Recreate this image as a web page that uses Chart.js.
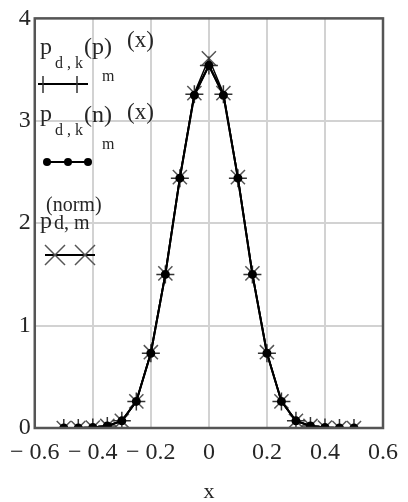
<!DOCTYPE html>
<html>
<head>
<meta charset="utf-8">
<script src="https://cdn.jsdelivr.net/npm/chart.js@4/dist/chart.umd.min.js"></script>
<style>
  html, body { margin: 0; padding: 0; background: #fff; }
  #wrap { width: 408px; height: 502px; position: relative; }
</style>
</head>
<body>
<div id="wrap"><canvas id="plot"></canvas></div>
<script>
// x grid of the curves
var xVals = [-0.5, -0.45, -0.4, -0.35, -0.3, -0.25, -0.2, -0.15, -0.1, -0.05, 0,
             0.05, 0.1, 0.15, 0.2, 0.25, 0.3, 0.35, 0.4, 0.45, 0.5];
// p_(d,k_m)^(p)(x)  -- plus markers
var pPlus = [0.0, 0.0, 0.005, 0.02, 0.07, 0.26, 0.73, 1.5, 2.44, 3.26, 3.54,
             3.26, 2.44, 1.5, 0.73, 0.26, 0.07, 0.02, 0.005, 0.0, 0.0];
// p_(d,k_m)^(n)(x)  -- dots
var pDots = [0.0, 0.0, 0.005, 0.02, 0.07, 0.26, 0.73, 1.5, 2.44, 3.25, 3.54,
             3.25, 2.44, 1.5, 0.73, 0.26, 0.07, 0.02, 0.005, 0.0, 0.0];
// p_(d,m)^(norm)  -- x markers
var pNorm = [0.0, 0.0, 0.005, 0.02, 0.07, 0.26, 0.74, 1.51, 2.45, 3.27, 3.61,
             3.27, 2.45, 1.51, 0.74, 0.26, 0.07, 0.02, 0.005, 0.0, 0.0];

var xTicks = [-0.6, -0.4, -0.2, 0, 0.2, 0.4, 0.6];
var yTicks = [0, 1, 2, 3, 4];

var SERIF = "'Liberation Serif', 'DejaVu Serif', serif";
var TXT = "#262626";

function pts(ys){
  var out = [];
  for(var i=0;i<xVals.length;i++){ out.push({x:xVals[i], y:ys[i]}); }
  return out;
}

// frame + legend drawn on top of the plot
var framePlugin = {
  id: "frame",
  afterDraw: function(chart){
    var c = chart.ctx, a = chart.chartArea;
    c.save();
    c.strokeStyle = "#555";
    c.lineWidth = 2.5;
    c.strokeRect(a.left, a.top, a.right - a.left, a.bottom - a.top);

    c.fillStyle = TXT;
    c.textBaseline = "alphabetic";
    c.textAlign = "left";
    function t(s, x, y, size){ c.font = size + "px " + SERIF; c.fillText(s, x, y); }

    // label 1
    t("p", 40, 54, 24);
    t("d , k", 55, 68, 16);
    t("(p)", 84, 54, 24);
    t("(x)", 127, 47, 23);
    t("m", 102, 81, 16);
    // label 2
    t("p", 40, 121, 24);
    t("d , k", 55, 135, 16);
    t("(n)", 84, 122, 24);
    t("(x)", 127, 119, 23);
    t("m", 102, 149, 16);
    // label 3
    t("p", 40, 228, 24);
    t("(norm)", 46, 211, 20);
    t("d, m", 54, 229, 20);

    c.strokeStyle = "#000";
    c.lineWidth = 2;
    // sample 1: line with + ticks
    c.beginPath(); c.moveTo(38, 84); c.lineTo(88, 84); c.stroke();
    c.strokeStyle = "#333"; c.lineWidth = 1.5;
    c.beginPath();
    c.moveTo(43, 76); c.lineTo(43, 93);
    c.moveTo(77, 76); c.lineTo(77, 93);
    c.stroke();
    // sample 2: dots
    c.strokeStyle = "#000"; c.lineWidth = 2;
    c.beginPath(); c.moveTo(47, 162); c.lineTo(88, 162); c.stroke();
    c.fillStyle = "#000";
    [47, 68, 88].forEach(function(px){
      c.beginPath(); c.arc(px, 162, 4, 0, Math.PI*2); c.fill();
    });
    // sample 3: x markers
    c.beginPath(); c.moveTo(45, 255); c.lineTo(95, 255); c.stroke();
    c.strokeStyle = "#555"; c.lineWidth = 1.5;
    [55, 85].forEach(function(px){
      c.beginPath();
      c.moveTo(px-10, 245); c.lineTo(px+10, 265);
      c.moveTo(px-10, 265); c.lineTo(px+10, 245);
      c.stroke();
    });
    c.restore();
  }
};

function fmtX(v){
  var r = Math.round(v*10)/10;
  if (Math.abs(r) < 1e-9) return "0";
  if (r < 0) return "\u2212 " + Math.abs(r).toFixed(1);
  return r.toFixed(1);
}

new Chart(document.getElementById("plot"), {
  type: "line",
  data: {
    datasets: [
      {
        label: "p_d,k_m^(n)(x)",
        data: pts(pDots),
        borderColor: "#000", borderWidth: 2,
        pointStyle: "circle", pointRadius: 3.5,
        pointBackgroundColor: "#000", pointBorderColor: "#000",
        order: 1
      },
      {
        label: "p_d,k_m^(p)(x)",
        data: pts(pPlus),
        borderColor: "#000", borderWidth: 2,
        pointStyle: "cross", pointRadius: 9,
        pointBorderColor: "#333", pointBorderWidth: 1.5,
        order: 2
      },
      {
        label: "p_d,m^(norm)",
        data: pts(pNorm),
        borderColor: "#000", borderWidth: 1.5,
        pointStyle: "crossRot", pointRadius: 10,
        pointBorderColor: "#555", pointBorderWidth: 1.5,
        order: 3
      }
    ]
  },
  options: {
    responsive: true,
    maintainAspectRatio: false,
    animation: false,
    layout: { padding: { top: 14, right: 17, left: 0, bottom: 0 } },
    plugins: { legend: { display: false }, tooltip: { enabled: false } },
    scales: {
      x: {
        type: "linear", min: -0.6, max: 0.6,
        afterFit: function(s){ s.height = 74; },
        afterBuildTicks: function(s){ s.ticks = xTicks.map(function(v){ return {value:v}; }); },
        grid: { color: "#d2d2d2", lineWidth: 2, drawTicks: false },
        border: { display: false },
        ticks: {
          autoSkip: false, maxRotation: 0, padding: 10, color: TXT,
          font: { family: SERIF, size: 24 },
          callback: function(v){ return fmtX(v); }
        },
        title: { display: true, text: "x", color: TXT, font: { family: SERIF, size: 22 }, padding: { top: 0, bottom: -3 } }
      },
      y: {
        type: "linear", min: 0, max: 4,
        afterFit: function(s){ s.width = 31; },
        afterBuildTicks: function(s){ s.ticks = yTicks.map(function(v){ return {value:v}; }); },
        grid: { color: "#d2d2d2", lineWidth: 2, drawTicks: false },
        border: { display: false },
        ticks: {
          padding: 4, color: TXT,
          font: { family: SERIF, size: 24 },
          callback: function(v){ return String(v); }
        }
      }
    }
  },
  plugins: [framePlugin]
});
</script>
</body>
</html>
